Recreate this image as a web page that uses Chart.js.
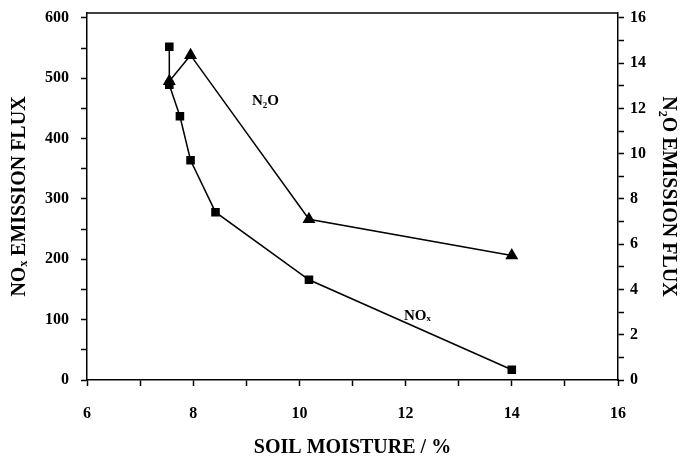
<!DOCTYPE html>
<html>
<head>
<meta charset="utf-8">
<script src="https://cdn.jsdelivr.net/npm/chart.js@4/dist/chart.umd.min.js"></script>
<style>
  html, body { margin: 0; padding: 0; background: #fff; }
  #wrap { width: 680px; height: 460px; }
</style>
</head>
<body>
<div id="wrap"><canvas id="chart" width="680" height="460"></canvas></div>
<script>
// soil moisture (%) vs emission flux
var noxMoisture = [7.55, 7.55, 7.75, 7.95, 8.42, 10.18, 14.0];
var noxFlux = [552, 489, 437, 364, 278, 166, 17];
var n2oMoisture = [7.55, 7.95, 10.18, 14.0];
var n2oFlux = [13.2, 14.35, 7.1, 5.5];

var xTicks = [6, 8, 10, 12, 14, 16];
var leftTicks = [0, 100, 200, 300, 400, 500, 600];
var rightTicks = [0, 2, 4, 6, 8, 10, 12, 14, 16];

var serif = '"Liberation Serif", "DejaVu Serif", serif';

function pairs(xs, ys) {
	return xs.map(function(x, i) { return {x: x, y: ys[i]}; });
}

// put a tick every half step, label only the major ones
function halfSteps(major) {
	return function(scale) {
		var t = [];
		for (var i = 0; i < major.length; i++) {
			t.push({value: major[i]});
			if (i < major.length - 1) t.push({value: (major[i] + major[i + 1]) / 2});
		}
		scale.ticks = t;
	};
}
function majorOnly(major) {
	return function(v) { return major.indexOf(v) >= 0 ? String(v) : ''; };
}
// fixed axis width, no extra room for label overflow
function fixWidth(w) {
	return function(s) { s.width = w; s.paddingTop = 0; s.paddingBottom = 0; };
}

var frameAndLabels = {
	id: 'frameAndLabels',
	afterDraw: function(chart) {
		var ctx = chart.ctx, a = chart.chartArea;
		ctx.save();
		ctx.strokeStyle = '#000';
		ctx.lineWidth = 1.5;
		ctx.beginPath();
		ctx.moveTo(a.left, a.top);
		ctx.lineTo(a.right, a.top);
		ctx.stroke();
		ctx.fillStyle = '#000';
		ctx.font = 'bold 15px ' + serif;
		ctx.textAlign = 'center';
		ctx.textBaseline = 'middle';
		var x = chart.scales.x, yl = chart.scales.y, yr = chart.scales.y2;
		ctx.fillText('N\u2082O', x.getPixelForValue(9.36), yr.getPixelForValue(12.3));
		ctx.fillText('NO\u2093', x.getPixelForValue(12.22), yl.getPixelForValue(106));
		ctx.restore();
	}
};

var tickFont = {family: serif, size: 16, weight: 'bold'};
var titleFont = {family: serif, size: 20, weight: 'bold'};

new Chart(document.getElementById('chart'), {
	type: 'scatter',
	data: {
		datasets: [{
			label: 'NOx',
			data: pairs(noxMoisture, noxFlux),
			yAxisID: 'y',
			showLine: true,
			borderColor: '#000',
			backgroundColor: '#000',
			borderWidth: 1.5,
			pointStyle: 'rect',
			pointRadius: 5,
			pointHoverRadius: 5
		}, {
			label: 'N2O',
			data: pairs(n2oMoisture, n2oFlux),
			yAxisID: 'y2',
			showLine: true,
			borderColor: '#000',
			backgroundColor: '#000',
			borderWidth: 1.5,
			pointStyle: 'triangle',
			pointRadius: 6,
			pointHoverRadius: 6
		}]
	},
	options: {
		responsive: false,
		animation: false,
		layout: {padding: {top: 13, left: 0, right: 0, bottom: 0}},
		plugins: {legend: {display: false}, tooltip: {enabled: false}},
		scales: {
			x: {
				type: 'linear', min: 6, max: 16,
				afterBuildTicks: function(s) { s.ticks = []; for (var v = 6; v <= 16; v++) s.ticks.push({value: v}); },
				afterFit: function(s) { s.height = 80; },
				border: {color: '#000', width: 1.5},
				grid: {drawOnChartArea: false, color: '#000', tickLength: 6, tickWidth: 1.5},
				ticks: {autoSkip: false, maxRotation: 0, color: '#000', padding: 18,
					font: tickFont, callback: majorOnly(xTicks)},
				title: {display: true, text: 'SOIL MOISTURE / %', color: '#000', padding: {top: 8, bottom: 0},
					font: titleFont}
			},
			y: {
				type: 'linear', position: 'left', min: 0, max: 608,
				afterBuildTicks: halfSteps(leftTicks),
				afterFit: fixWidth(87),
				border: {color: '#000', width: 1.5},
				grid: {drawOnChartArea: false, color: '#000', tickLength: 6, tickWidth: 1.5},
				ticks: {autoSkip: false, color: '#000', padding: 12,
					font: tickFont, callback: majorOnly(leftTicks)},
				title: {display: true, text: 'NO\u2093 EMISSION FLUX', color: '#000', padding: {top: 8, bottom: 0},
					font: titleFont}
			},
			y2: {
				type: 'linear', position: 'right', min: 0, max: 16 * 608 / 600,
				afterBuildTicks: halfSteps(rightTicks),
				afterFit: fixWidth(62),
				border: {color: '#000', width: 1.5},
				grid: {drawOnChartArea: false, color: '#000', tickLength: 6, tickWidth: 1.5},
				ticks: {autoSkip: false, color: '#000', padding: 6,
					font: tickFont, callback: majorOnly(rightTicks)},
				title: {display: true, text: 'N\u2082O EMISSION FLUX', color: '#000', padding: {top: 0, bottom: 0},
					font: titleFont}
			}
		}
	},
	plugins: [frameAndLabels]
});
</script>
</body>
</html>
